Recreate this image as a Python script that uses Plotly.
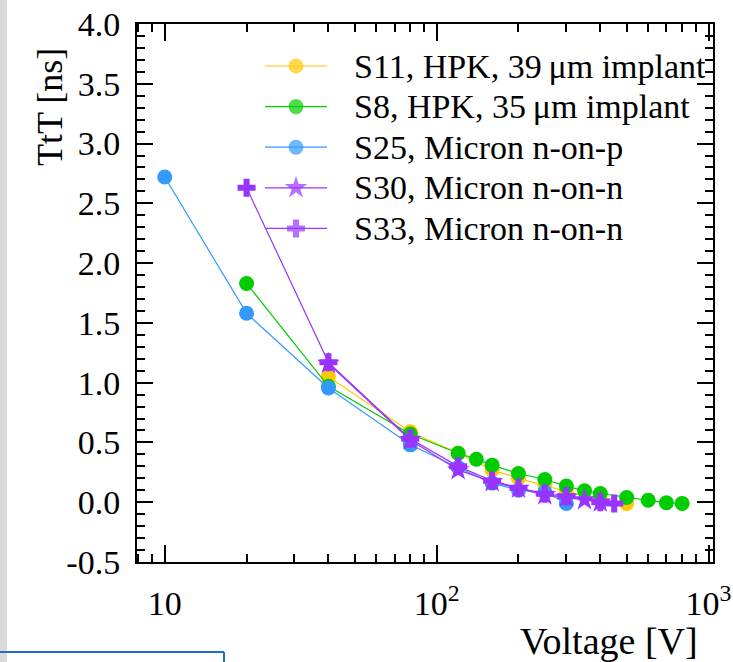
import plotly.graph_objects as go

# Time-to-threshold (TtT) versus bias voltage for five sensors
s11_v = [40, 80, 120, 160, 200, 250, 300, 400, 500]
s11_t = [1.05, 0.59, 0.41, 0.27, 0.20, 0.14, 0.09, 0.02, -0.01]

s8_v = [20, 40, 80, 120, 140, 160, 200, 250, 300, 350, 400, 500, 600, 700, 800]
s8_t = [1.83, 0.97, 0.57, 0.41, 0.36, 0.31, 0.24, 0.19, 0.135, 0.095, 0.073, 0.04, 0.017, -0.005, -0.01]

s25_v = [10, 20, 40, 80, 120, 160, 200, 250, 300]
s25_t = [2.72, 1.58, 0.955, 0.48, 0.29, 0.16, 0.10, 0.085, -0.01]

s30_v = [40, 80, 120, 160, 200, 250, 300, 350, 400]
s30_t = [1.16, 0.52, 0.27, 0.17, 0.115, 0.06, 0.04, 0.02, 0.0]

s33_v = [20, 40, 80, 120, 160, 200, 250, 300, 400, 450]
s33_t = [2.63, 1.17, 0.53, 0.30, 0.18, 0.12, 0.07, 0.05, 0.0, -0.01]

series_names = [
    "S11, HPK, 39\u2009\u03bcm implant",
    "S8, HPK, 35\u2009\u03bcm implant",
    "S25, Micron n-on-p",
    "S30, Micron n-on-n",
    "S33, Micron n-on-n",
]
series_colors = ["#ffc800", "#00cc00", "#3399ff", "#9933ff", "#9933ff"]
series_symbols = ["circle", "circle", "circle", "star", "cross"]
series_sizes = [15, 15, 15, 17, 15]

x_major = [10, 100, 1000]
x_major_text = ["10", "10<sup>2</sup>", "10<sup>3</sup>"]
x_minor = [8, 9, 20, 30, 40, 50, 60, 70, 80, 90, 200, 300, 400, 500, 600, 700, 800, 900]

y_major = [-0.5, 0.0, 0.5, 1.0, 1.5, 2.0, 2.5, 3.0, 3.5, 4.0]
y_major_text = ["-0.5", "0.0", "0.5", "1.0", "1.5", "2.0", "2.5", "3.0", "3.5", "4.0"]

FONT = "Liberation Serif"

# figure geometry in pixels
W, H = 733, 662
L, R, T, B = 137, 20, 24, 100
PW, PH = W - L - R, H - T - B

fig = go.Figure()
for name, vx, vy, col, sym, sz in zip(
    series_names,
    [s11_v, s8_v, s25_v, s30_v, s33_v],
    [s11_t, s8_t, s25_t, s30_t, s33_t],
    series_colors, series_symbols, series_sizes,
):
    fig.add_trace(go.Scatter(
        x=vx, y=vy, name=name, mode="lines+markers", showlegend=False,
        line=dict(color=col, width=1.2),
        marker=dict(color=col, symbol=sym, size=sz, line=dict(width=0)),
    ))

# Legend keys: drawn on an overlay axis pair measured in pixels of the frame
LEG_X0, LEG_X1, LEG_TX = 265, 327, 352
LEG_Y0, LEG_DY = 66, 40.6
annotations = []
for i, (name, col, sym, sz) in enumerate(
        zip(series_names, series_colors, series_symbols, series_sizes)):
    ky = LEG_Y0 + i * LEG_DY
    fig.add_trace(go.Scatter(
        x=[LEG_X0, (LEG_X0 + LEG_X1) / 2, LEG_X1], y=[ky, ky, ky],
        xaxis="x2", yaxis="y2", mode="lines+markers", showlegend=False,
        hoverinfo="skip",
        line=dict(color=col, width=1.2),
        marker=dict(color=col, symbol=sym, size=[0, sz, 0], line=dict(width=0)),
    ))
    annotations.append(dict(
        text=name, xref="paper", yref="paper",
        x=(LEG_TX - L) / PW, y=(H - B - ky) / PH,
        xanchor="left", yanchor="middle", showarrow=False,
        font=dict(family=FONT, size=34, color="black"),
    ))

axis_common = dict(
    showline=True, linecolor="black", linewidth=2,
    mirror="ticks", ticks="inside", tickcolor="black", tickwidth=1.5,
    showgrid=False, zeroline=False, automargin=False,
    tickfont=dict(family=FONT, size=34, color="black"),
)

fig.update_layout(
    xaxis=dict(
        type="log", range=[0.898, 3.0165],
        tickmode="array", tickvals=x_major, ticktext=x_major_text,
        ticklen=17, ticklabelstandoff=10,
        minor=dict(tickmode="array", tickvals=x_minor, ticks="inside",
                   ticklen=8, tickcolor="black", tickwidth=1.5),
        **axis_common,
    ),
    yaxis=dict(
        range=[-0.5, 4.0],
        tickmode="array", tickvals=y_major, ticktext=y_major_text,
        ticklen=16, ticklabelstandoff=8,
        minor=dict(dtick=0.1, tick0=0, ticks="inside",
                   ticklen=8, tickcolor="black", tickwidth=1.5),
        **axis_common,
    ),
    xaxis2=dict(overlaying="x", range=[L, W - R], visible=False,
                fixedrange=True, automargin=False),
    yaxis2=dict(overlaying="y", range=[H - B, T], visible=False,
                fixedrange=True, automargin=False),
)

annotations += [
    dict(text="TtT [ns]", textangle=-90, xref="paper", yref="paper",
         x=(50 - L) / PW, y=(H - B - 107) / PH,
         xanchor="center", yanchor="middle", showarrow=False,
         font=dict(family=FONT, size=36, color="black")),
    dict(text="Voltage [V]", xref="paper", yref="paper",
         x=(700 - L) / PW, y=(H - B - 641) / PH,
         xanchor="right", yanchor="middle", showarrow=False,
         font=dict(family=FONT, size=38, color="black")),
]

fig.update_layout(
    width=W, height=H,
    margin=dict(l=L, r=R, t=T, b=B),
    paper_bgcolor="white", plot_bgcolor="white",
    font=dict(family=FONT, color="black"),
    showlegend=False,
    annotations=annotations,
    shapes=[
        # window edge strip on the left and frame at the lower left
        dict(type="rect", xref="paper", yref="paper",
             x0=-L / PW, x1=(7 - L) / PW, y0=-B / PH, y1=(H - B) / PH,
             fillcolor="#d9d9d9", line=dict(width=0), layer="below"),
        dict(type="line", xref="paper", yref="paper",
             x0=-L / PW, x1=(224 - L) / PW,
             y0=(H - B - 652) / PH, y1=(H - B - 652) / PH,
             line=dict(color="#1f6fc4", width=2)),
        dict(type="line", xref="paper", yref="paper",
             x0=(224 - L) / PW, x1=(224 - L) / PW,
             y0=(H - B - 652) / PH, y1=-B / PH,
             line=dict(color="#1f6fc4", width=2)),
    ],
)

fig.write_html("out.html")
